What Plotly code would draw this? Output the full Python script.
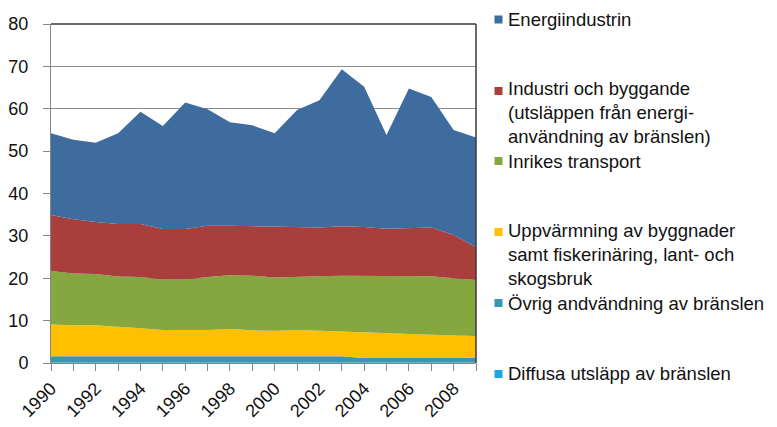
import plotly.graph_objects as go

years = list(range(1990, 2010))
tick_labels = [str(y) if y % 2 == 0 else "" for y in years]

series_names = [
    "Diffusa utsläpp av bränslen",
    "Övrig andvändning av bränslen",
    "Uppvärmning av byggnader<br>samt fiskerinäring, lant- och<br>skogsbruk",
    "Inrikes transport",
    "Industri och byggande<br>(utsläppen från energi-<br>användning av bränslen)",
    "Energiindustrin",
]

diffusa = [0.1] * 20
ovrig = [1.5, 1.5, 1.5, 1.5, 1.5, 1.5, 1.5, 1.5, 1.6, 1.5,
         1.5, 1.5, 1.5, 1.5, 1.1, 1.1, 1.1, 1.1, 1.1, 1.1]
uppvarmning = [7.5, 7.3, 7.3, 7.0, 6.6, 6.2, 6.2, 6.2, 6.3, 6.1,
               6.0, 6.2, 6.0, 5.8, 6.0, 5.8, 5.6, 5.4, 5.3, 5.2]
inrikes = [12.6, 12.2, 12.1, 11.8, 12.1, 11.9, 11.9, 12.5, 12.7, 12.9,
           12.6, 12.6, 12.9, 13.2, 13.4, 13.5, 13.7, 13.9, 13.5, 13.2]
industri = [13.2, 12.8, 12.3, 12.4, 12.5, 11.9, 11.9, 12.1, 11.7, 11.7,
            11.9, 11.6, 11.5, 11.7, 11.5, 11.2, 11.4, 11.5, 10.2, 7.8]
energi = [19.3, 18.8, 18.7, 21.4, 26.5, 24.3, 29.9, 27.5, 24.4, 23.8,
          22.1, 27.7, 30.0, 37.0, 33.1, 22.1, 32.9, 30.8, 24.8, 25.8]

series_values = [diffusa, ovrig, uppvarmning, inrikes, industri, energi]
colors = ["#16A8E0", "#3A97B0", "#FFC000", "#86A640", "#A83F3C", "#3E6C9F"]

fig = go.Figure()
for name, vals, col in zip(series_names, series_values, colors):
    fig.add_trace(go.Scatter(
        x=years, y=vals, name=name, stackgroup="one", mode="lines",
        line=dict(width=0, color=col), fillcolor=col, showlegend=False,
    ))

# page offset from the default body margin of the html page
OFF = 8
FW, FH = 777 - OFF, 427 - OFF
# plot area in page pixels
L, R, T, B = 51, 476, 24, 363
W, H = R - L, B - T

def px_x(p):
    return (p - L) / W

def px_y(p):
    return (B - p) / H

font_fam = "Liberation Sans, Arial, sans-serif"

# legend (top to bottom)
legend_first_line = [374, 303, 232, 161, 91, 19.5]
legend_centers = [374, 303, 254, 161, 112.5, 19.5]
for name, col, y1, yc in zip(series_names, colors, legend_first_line, legend_centers):
    fig.add_shape(type="rect", xref="paper", yref="paper",
                  x0=px_x(494.5), x1=px_x(502.5), y0=px_y(y1 + 4), y1=px_y(y1 - 4),
                  fillcolor=col, line=dict(width=0))
    fig.add_annotation(text=name, xref="paper", yref="paper",
                       x=px_x(507), y=px_y(yc), xanchor="left", yanchor="middle",
                       align="left", showarrow=False, borderpad=0,
                       font=dict(family=font_fam, size=18.5, color="#111"))

# plot border top and right
fig.add_shape(type="line", xref="paper", yref="paper", x0=0, x1=1, y0=1, y1=1,
              line=dict(color="#3a3a3a", width=1.5))
fig.add_shape(type="line", xref="paper", yref="paper", x0=1, x1=1, y0=0, y1=1,
              line=dict(color="#3a3a3a", width=1.5))

fig.update_layout(
    width=FW, height=FH,
    margin=dict(l=L - OFF, r=777 - R, t=T - OFF, b=427 - B, autoexpand=False),
    paper_bgcolor="white", plot_bgcolor="white",
    font=dict(family=font_fam, size=18, color="#111"),
    showlegend=False,
)
fig.update_xaxes(
    range=[1990, 2009], tickvals=years, ticktext=tick_labels, tickangle=-45,
    ticks="outside", ticklen=7, tickcolor="#868686", showline=True,
    linecolor="#868686", linewidth=1, showgrid=False, zeroline=False,
    tickfont=dict(size=18), automargin=False,
)
fig.update_yaxes(
    range=[0, 80], dtick=10, ticks="outside", ticklen=7, tickcolor="#868686",
    showline=True, linecolor="#868686", linewidth=1,
    showgrid=True, gridcolor="#8c8c8c", gridwidth=1, zeroline=False,
    tickfont=dict(size=18), ticklabelstandoff=11, automargin=False,
)

fig.write_html("out.html")
